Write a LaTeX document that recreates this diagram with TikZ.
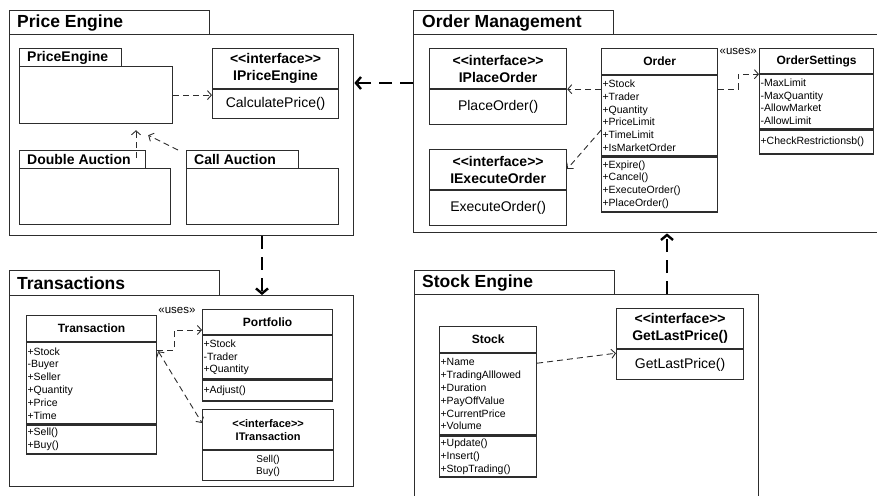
\documentclass[tikz,border=0pt]{standalone}
\usepackage{fontspec}
\setmainfont{Liberation Sans}
\usetikzlibrary{arrows.meta,positioning}
\definecolor{linec}{RGB}{45,45,45}

\tikzset{
  pkgtab/.style={draw=linec, line width=1.4pt, anchor=north west, inner sep=0pt},
  pkgbody/.style={draw=linec, line width=1.4pt, anchor=north west, inner sep=0pt},
  pkgtitle/.style={anchor=west, inner sep=0pt, font=\fontsize{17.5}{20}\selectfont\bfseries},
  subtitle/.style={anchor=west, inner sep=0pt, font=\fontsize{14}{16}\selectfont\bfseries},
  cname/.style={draw=linec, line width=1.2pt, anchor=north west, inner sep=0pt, font=\fontsize{12}{14}\selectfont\bfseries},
  cbody/.style={draw=linec, line width=1.2pt, inner xsep=1pt, inner ysep=0pt, align=left, font=\fontsize{10.5}{12.8}\selectfont},
  ihead/.style={draw=linec, line width=1.2pt, anchor=north west, inner sep=0pt, align=center, font=\fontsize{14}{17}\selectfont\bfseries},
  ibody/.style={draw=linec, line width=1.2pt, inner sep=0pt, align=center, font=\fontsize{14}{17}\selectfont},
  dep/.style={draw=linec, line width=0.9pt, dash pattern=on 6pt off 4pt, -{Straight Barb[length=4pt,width=9pt]}},
  pkgdep/.style={draw=black, line width=2.4pt, dash pattern=on 13pt off 8pt, -{Straight Barb[length=5pt,width=12pt]}},
  uses/.style={inner sep=0pt, font=\fontsize{11.5}{13}\selectfont},
}
\newcommand{\ifc}{<\kern0pt<interface>\kern0pt>}

\begin{document}
\begin{tikzpicture}[x=1pt,y=1pt,yscale=-1,xscale=1]
	\useasboundingbox (0,0) rectangle (877,495);
	\clip (0,0) rectangle (877,495);
	
	%Shape: Package Price Engine
	\node[pkgtab, minimum width=200pt, minimum height=24pt] (petab) at (9,10) {};
	\node[pkgbody, minimum width=344pt, minimum height=201pt] (pe) at (9,34) {};
	\node[pkgtitle] at ([xshift=8pt]petab.west) {Price Engine};
	% sub packages
	\node[pkgtab, line width=1.2pt, minimum width=102pt, minimum height=18pt] (petab2) at (19,48) {};
	\node[pkgbody, line width=1.2pt, minimum width=153pt, minimum height=57pt] (pebody) at (19,66) {};
	\node[subtitle] at ([xshift=8pt]petab2.west) {PriceEngine};
	\node[pkgtab, line width=1.2pt, minimum width=126pt, minimum height=18pt] (datab) at (19,150) {};
	\node[pkgbody, line width=1.2pt, minimum width=151pt, minimum height=56pt] (dabody) at (19,168) {};
	\node[subtitle] at ([xshift=8pt]datab.west) {Double Auction};
	\node[pkgtab, line width=1.2pt, minimum width=112pt, minimum height=18pt] (catab) at (186,150) {};
	\node[pkgbody, line width=1.2pt, minimum width=152pt, minimum height=56pt] (cabody) at (186,168) {};
	\node[subtitle] at ([xshift=8pt]catab.west) {Call Auction};
	% interface
	\node[ihead, minimum width=126pt, minimum height=40pt] (ipe) at (212,48) {\ifc\\IPriceEngine};
	\node[ibody, minimum width=126pt, minimum height=29pt, below=0pt of ipe] (ipem) {CalculatePrice()};
	
	%Shape: Package Order Management
	\node[pkgtab, minimum width=200pt, minimum height=24pt] (omtab) at (413,10) {};
	\node[pkgbody, minimum width=487pt, minimum height=198pt] (om) at (413,34) {};
	\node[pkgtitle] at ([xshift=9pt]omtab.west) {Order Management};
	\node[ihead, minimum width=137pt, minimum height=40pt] (ipo) at (429,48) {\ifc\\IPlaceOrder};
	\node[ibody, minimum width=137pt, minimum height=35pt, below=0pt of ipo] (ipom) {PlaceOrder()};
	\node[ihead, minimum width=137pt, minimum height=40pt] (ieo) at (429,149) {\ifc\\IExecuteOrder};
	\node[ibody, minimum width=137pt, minimum height=35pt, below=0pt of ieo] (ieom) {ExecuteOrder()};
	\node[cname, minimum width=116pt, minimum height=26pt] (order) at (601,48) {Order};
	\node[cbody, text width=114pt, minimum height=80pt, below=0pt of order] (orderattr) {+Stock\\+Trader\\+Quantity\\+PriceLimit\\+TimeLimit\\+IsMarketOrder};
	\node[cbody, text width=114pt, minimum height=55pt, below=0pt of orderattr] (ordermeth) {+Expire()\\+Cancel()\\+ExecuteOrder()\\+PlaceOrder()};
	\node[cname, minimum width=114pt, minimum height=25pt] (os) at (759,48) {OrderSettings};
	\node[cbody, text width=112pt, minimum height=54pt, below=0pt of os] (osattr) {-MaxLimit\\-MaxQuantity\\-AllowMarket\\-AllowLimit};
	\node[cbody, text width=112pt, minimum height=24pt, below=0pt of osattr] (osmeth) {+CheckRestrictionsb()};
	
	%Shape: Package Transactions
	\node[pkgtab, minimum width=210pt, minimum height=25pt] (trtab) at (9,270) {};
	\node[pkgbody, minimum width=344pt, minimum height=191pt] (tr) at (9,295) {};
	\node[pkgtitle] at ([xshift=8pt]trtab.west) {Transactions};
	\node[cname, minimum width=130pt, minimum height=26pt] (trans) at (26,315) {Transaction};
	\node[cbody, text width=128pt, minimum height=81pt, below=0pt of trans] (trattr) {+Stock\\-Buyer\\+Seller\\+Quantity\\+Price\\+Time};
	\node[cbody, text width=128pt, minimum height=29pt, below=0pt of trattr] (trmeth) {+Sell()\\+Buy()};
	\node[cname, minimum width=130pt, minimum height=25pt] (pf) at (202,309) {Portfolio};
	\node[cbody, text width=128pt, minimum height=43pt, below=0pt of pf] (pfattr) {+Stock\\-Trader\\+Quantity};
	\node[cbody, text width=128pt, minimum height=21pt, below=0pt of pfattr] (pfmeth) {+Adjust()};
	\node[ihead, font=\fontsize{11}{13}\selectfont\bfseries, minimum width=131pt, minimum height=40pt] (itr) at (202,409) {\ifc\\ITransaction};
	\node[ibody, font=\fontsize{10}{12}\selectfont, minimum width=131pt, minimum height=30pt, below=0pt of itr] (itrm) {Sell()\\Buy()};
	
	%Shape: Package Stock Engine
	\node[pkgtab, minimum width=200pt, minimum height=24pt] (setab) at (414,270) {};
	\node[pkgbody, minimum width=344pt, minimum height=226pt] (se) at (414,294) {};
	\node[pkgtitle] at ([xshift=8pt]setab.west) {Stock Engine};
	\node[ihead, minimum width=127pt, minimum height=40pt] (glp) at (616,308) {\ifc\\GetLastPrice()};
	\node[ibody, minimum width=127pt, minimum height=30pt, below=0pt of glp] (glpm) {GetLastPrice()};
	\node[cname, minimum width=97pt, minimum height=26pt] (stock) at (439,326) {Stock};
	\node[cbody, text width=95pt, minimum height=81pt, below=0pt of stock] (stattr) {+Name\\+TradingAlllowed\\+Duration\\+PayOffValue\\+CurrentPrice\\+Volume};
	\node[cbody, text width=95pt, minimum height=41pt, below=0pt of stattr] (stmeth) {+Update()\\+Insert()\\+StopTrading()};
	
	%Straight Lines: package dependencies
	\draw[pkgdep] ([yshift=49pt]om.north west) -- ([yshift=49pt]pe.north east);
	\draw[pkgdep] ([xshift=253pt]pe.south west) -- ([xshift=253pt]tr.north west);
	\draw[pkgdep] ([xshift=253pt]se.north west) -- ([xshift=254pt]om.south west);
	
	%Straight Lines: class dependencies
	\draw[dep] (pebody.east) -- (pebody.east -| ipem.west);
	\coordinate (dastart) at ([xshift=117pt,yshift=8pt]datab.north west);
	\draw[dep, shorten >=6pt] (dastart) -- (dastart |- pebody.south);
	\draw[dep] ([xshift=-8pt]catab.north west) -- ([xshift=-25pt,yshift=11pt]pebody.south east);
	\draw[dep] ([yshift=14pt]orderattr.north west) -- (ipo.south east);
	\draw[dep] ([yshift=55pt]orderattr.north west) -- ([yshift=20pt]ieo.north east);
	\draw[dep] ([yshift=14pt]orderattr.north east) -- ++(20,0) |- (osattr.north west);
	\draw[dep] ([yshift=8pt]trattr.north east) -- ++(17,0) |- ([yshift=21pt]pf.north west);
	\draw[dep, {Straight Barb[length=4pt,width=9pt]}-{Straight Barb[length=4pt,width=9pt]}] ([xshift=1pt,yshift=9pt]trattr.north east) -- ([yshift=14pt]itr.north west);
	\draw[dep] ([yshift=10pt]stattr.north east) -- ([yshift=4pt]glpm.north west);
	
	% Text Node
	\node[uses] at ([xshift=20pt,yshift=3pt]order.north east) {«uses»};
	% Text Node
	\node[uses] at ([xshift=-25pt,yshift=1pt]pf.north west) {«uses»};
\end{tikzpicture}
\end{document}
